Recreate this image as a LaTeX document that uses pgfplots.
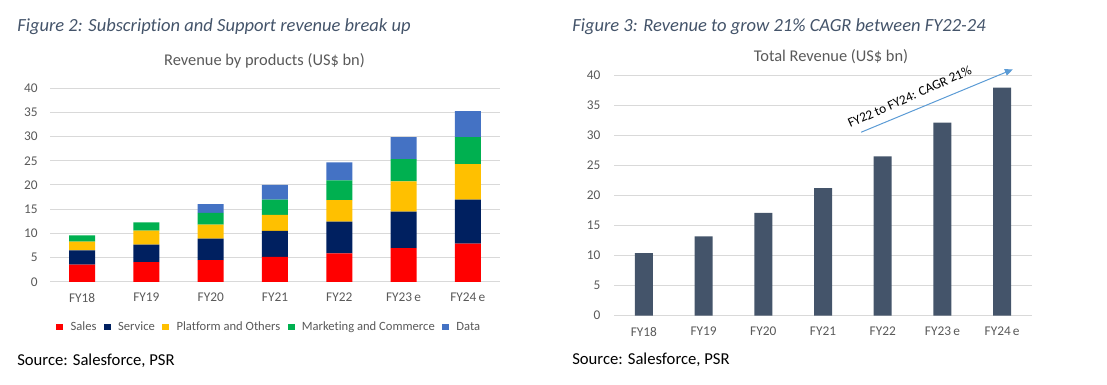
\documentclass[border=0pt]{standalone}
\usepackage{pgfplots}
\pgfplotsset{compat=1.18}
\usepackage{fontspec}
\setmainfont{Carlito}[Ligatures=NoCommon]
\usetikzlibrary{arrows.meta}
\definecolor{ctitle}{HTML}{44546A}
\definecolor{cgray}{HTML}{595959}
\definecolor{cgrid}{HTML}{D9D9D9}
\definecolor{csales}{HTML}{FF0000}
\definecolor{cservice}{HTML}{002060}
\definecolor{cplat}{HTML}{FFC000}
\definecolor{cmkt}{HTML}{00B050}
\definecolor{cdata}{HTML}{4472C4}
\definecolor{ctotal}{HTML}{44546A}
\definecolor{carrow}{HTML}{5B9BD5}
\pgfplotsset{
  common/.style={
    scale only axis,
    xmin=-0.5, xmax=6.5, ymin=0, ymax=40,
    ytick={0,5,...,40},
    xtick={0,1,2,3,4,5,6},
    xticklabels={FY18,FY19,FY20,FY21,FY22,FY23\,e,FY24\,e},
    axis line style={draw=none},
    ymajorgrids,
    grid style={cgrid, line width=0.75pt},
    major tick length=0pt,
    tick label style={font=\fontsize{10}{11}\selectfont, text=cgray, inner sep=0pt},
    /pgf/number format/assume math mode=true,
    xticklabel style={anchor=north},
    yticklabel style={anchor=east},
  }
}
\begin{document}
\begin{tikzpicture}
\useasboundingbox (0,0) rectangle (830.25pt,288.75pt);
% titles
\node[anchor=west, font=\fontsize{13.9}{16}\selectfont\itshape, text=ctitle, inner sep=0pt] at (12.75pt,268.5pt) {Figure 2: Subscription and Support revenue break up};
\node[anchor=west, font=\fontsize{13.9}{16}\selectfont\itshape, text=ctitle, inner sep=0pt] at (429pt,268.5pt) {Figure 3: Revenue to grow 21\% CAGR between FY22-24};
\node[font=\fontsize{12.3}{14}\selectfont, text=cgray, inner sep=0pt] at (198.4pt,243pt) {Revenue by products (US\$ bn)};
\node[font=\fontsize{12.3}{14}\selectfont, text=cgray, inner sep=0pt] at (623.25pt,246pt) {Total Revenue (US\$ bn)};
\node[anchor=west, font=\fontsize{12.5}{14}\selectfont, text=black, inner sep=0pt] at (12.75pt,18pt) {Source: Salesforce, PSR};
\node[anchor=west, font=\fontsize{12.5}{14}\selectfont, text=black, inner sep=0pt] at (429pt,18.75pt) {Source: Salesforce, PSR};

\begin{axis}[common,
  at={(37.5pt,77.25pt)}, anchor=south west,
  width=337.5pt, height=145.5pt,
  ybar stacked, bar width=19.5pt,
  yticklabel shift=9pt,
  xticklabel shift=8pt,
  legend style={at={(0.488,-0.232)}, anchor=center, draw=none, fill=none,
    legend columns=-1, font=\fontsize{9.45}{11}\selectfont, text=cgray,
    /tikz/every odd column/.append style={column sep=3.5pt},
    /tikz/every even column/.append style={column sep=3.5pt}},
  legend image code/.code={\fill[#1] (0pt,-2.6pt) rectangle (5.2pt,2.6pt);},
]
\addplot[fill=csales, draw=none] coordinates {(0,3.6) (1,4.1) (2,4.5) (3,5.2) (4,5.9) (5,7.0) (6,7.9)};
\addlegendentry{Sales}
\addplot[fill=cservice, draw=none] coordinates {(0,2.9) (1,3.6) (2,4.45) (3,5.35) (4,6.55) (5,7.5) (6,9.1)};
\addlegendentry{Service}
\addplot[fill=cplat, draw=none] coordinates {(0,1.8) (1,2.9) (2,2.9) (3,3.3) (4,4.45) (5,6.25) (6,7.3)};
\addlegendentry{Platform and Others}
\addplot[fill=cmkt, draw=none] coordinates {(0,1.3) (1,1.7) (2,2.4) (3,3.15) (4,4.05) (5,4.6) (6,5.55)};
\addlegendentry{Marketing and Commerce}
\addplot[fill=cdata, draw=none] coordinates {(0,0) (1,0) (2,1.8) (3,3.0) (4,3.7) (5,4.5) (6,5.4)};
\addlegendentry{Data}
\end{axis}

\begin{axis}[common,
  at={(460.5pt,51.97pt)}, anchor=south west,
  width=313.5pt, height=180.5pt,
  ybar, bar width=13.5pt,
  yticklabel shift=10pt,
  xticklabel shift=8.5pt,
  clip=false,
]
\addplot[fill=ctotal, draw=none] coordinates {(0,10.4) (1,13.2) (2,17.1) (3,21.2) (4,26.5) (5,32.1) (6,37.9)};
\draw[carrow, line width=0.75pt, -{Triangle[length=6pt,width=5pt]}] (axis cs:3.64,30.5) -- (axis cs:6.18,40.95);
\node[rotate=24, font=\fontsize{10}{12}\selectfont, text=black, inner sep=0pt] at (axis cs:4.45,36.4) {FY22 to FY24: CAGR 21\%};
\end{axis}
\end{tikzpicture}
\end{document}
